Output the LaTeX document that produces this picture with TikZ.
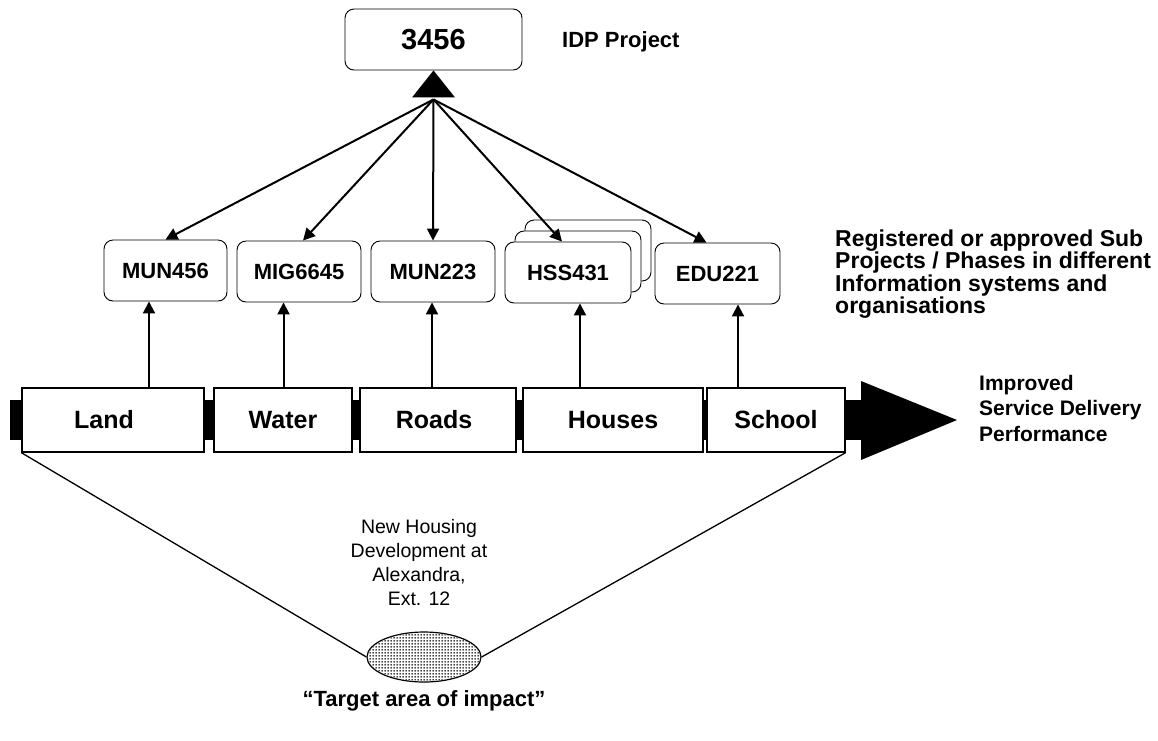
\documentclass[tikz,border=0pt]{standalone}
\usepackage{fontspec}
\setmainfont{Liberation Sans}
\usetikzlibrary{arrows.meta,patterns,calc,shapes.geometric}
% dense black dot fill for the target area
\pgfdeclarepatternformonly{densedots}{\pgfpointorigin}{\pgfqpoint{3pt}{3pt}}{\pgfqpoint{3pt}{3pt}}%
  {\pgfpathcircle{\pgfqpoint{1.5pt}{1.5pt}}{1.05pt}\pgfusepath{fill}}
\begin{document}
\begin{tikzpicture}[x=1pt,y=-1pt,
  fs/.style 2 args={font=\fontsize{#1}{#2}\selectfont\bfseries},
  projbox/.style={draw,rounded corners=9pt,fill=white,line width=0.9pt,inner sep=0pt,fs={22}{24}},
  phasebox/.style={draw,fill=white,line width=1.3pt,inner sep=0pt,fs={25}{27}},
  arr/.style={line width=2pt,-{Triangle[length=12pt,width=12pt]}},
  note/.style={align=left,anchor=west,inner sep=0pt,fs={23}{22.6}}]
\useasboundingbox (0,0) rectangle (1158,740);

% overall IDP project
\node[projbox,fs={29}{31},minimum width=177pt,minimum height=61pt] (idp) at (433.5,39.5) {3456};
\node[anchor=west,inner sep=0pt,fs={22}{24}] (idplabel) at (562,42) {IDP Project};
\fill (idp.south) -- ++(-21.5,27) -- ++(43,0) -- cycle;
\coordinate (hub) at ($(idp.south)+(0,29)$);

% registered sub projects
\node[projbox,minimum width=123pt,minimum height=61pt] (mun456) at (165.5,270.5) {MUN456};
\node[projbox,minimum width=124pt,minimum height=61pt] (mig6645) at (299,271.5) {MIG6645};
\node[projbox,minimum width=124pt,minimum height=61pt] (mun223) at (433,271.5) {MUN223};
\node[projbox,minimum width=126pt,minimum height=61pt] (hssb) at (588,250.5) {};
\node[projbox,minimum width=126pt,minimum height=61pt] (hssa) at (578,261.5) {};
\node[projbox,minimum width=126pt,minimum height=61pt] (hss431) at (568,272.5) {HSS431};
\node[projbox,minimum width=125pt,minimum height=61pt] (edu221) at (717.5,273.5) {EDU221};

\node[note] (subnote) at (835,274) {Registered or approved Sub\\Projects / Phases in different\\Information systems and\\organisations};

% delivery band with its phases
\fill (10,400) rectangle (861,440);
\fill (861,381) -- (957,420) -- (861,460) -- cycle;
\node[phasebox,minimum width=182pt,minimum height=64pt] (land) at (113,420) {\hspace*{-18pt}Land};
\node[phasebox,minimum width=138pt,minimum height=64pt] (water) at (283,420) {Water};
\node[phasebox,minimum width=156pt,minimum height=64pt] (roads) at (438,420) {\hspace*{-8pt}Roads};
\node[phasebox,minimum width=180pt,minimum height=64pt] (houses) at (613,420) {Houses};
\node[phasebox,minimum width=138pt,minimum height=64pt] (school) at (776,420) {School};

\node[note,fs={21}{25.5}] (perf) at (979,408) {Improved\\Service Delivery\\Performance};

% links from the sub projects to the IDP project
\draw[arr] (hub) -- (mun456.north);
\draw[arr] (hub) -- ($(mig6645.north)+(4,0)$);
\draw[arr] (hub) -- (mun223.north);
\draw[arr] (hub) -- ($(hss431.north)+(-6,0)$);
\draw[arr] (hub) -- ($(edu221.north)+(-11,0)$);

% links from the phases to the sub projects
\coordinate (xa) at (149,0);
\coordinate (xb) at (283.5,0);
\coordinate (xc) at (432,0);
\coordinate (xd) at (580,0);
\coordinate (xe) at (738,0);
\draw[arr] (land.north -| xa) -- (mun456.south -| xa);
\draw[arr] (water.north -| xb) -- (mig6645.south -| xb);
\draw[arr] (roads.north -| xc) -- (mun223.south -| xc);
\draw[arr] (houses.north -| xd) -- (hss431.south -| xd);
\draw[arr] (school.north -| xe) -- (edu221.south -| xe);

% target area
\node[draw,ellipse,line width=1.2pt,fill=white,minimum width=114pt,minimum height=50pt,inner sep=0pt] (area) at (424,657) {};
\fill[pattern=densedots] (area.center) ellipse [x radius=56pt,y radius=24pt];
\draw[line width=1.3pt] (land.south west) -- (area.west);
\draw[line width=1.3pt] (area.east) -- (school.south east);
\node[align=center,inner sep=0pt,font=\fontsize{19.5}{24}\selectfont] (place) at (419,562) {New Housing\\Development at\\Alexandra,\\Ext. 12};
\node[inner sep=0pt,fs={22}{24}] (target) at (424,701) {“Target area of impact”};
\end{tikzpicture}
\end{document}
